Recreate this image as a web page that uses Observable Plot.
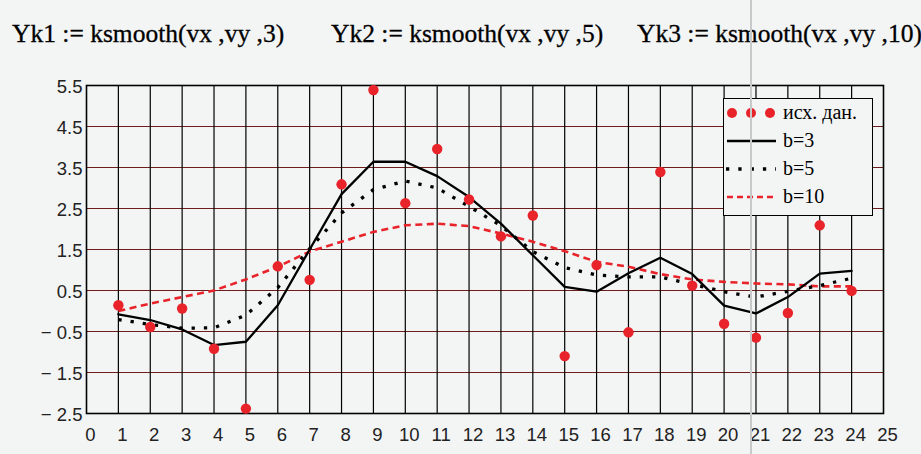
<!DOCTYPE html>
<html>
<head>
<meta charset="utf-8">
<script src="https://cdn.jsdelivr.net/npm/d3@7"></script>
<script src="https://cdn.jsdelivr.net/npm/@observablehq/plot@0.6"></script>
<style>
  html, body { margin: 0; padding: 0; background: #f3f4f4; }
  #page { position: relative; width: 921px; height: 454px; overflow: hidden; background: #f3f4f4; }
  #title { position: relative; height: 60px; font-family: "Liberation Serif", serif; font-size: 25.5px; color: #000; -webkit-text-stroke: 0.3px #000; }
  #title span { position: absolute; top: 19px; white-space: pre; }
  #legend { position: absolute; left: 723px; top: 98px; width: 148px; height: 116px; border: 1px solid #000;
            background: #f3f4f4; font-family: "Liberation Serif", serif; font-size: 20px; color: #000; }
  #legend .row { position: absolute; left: 0; height: 28px; width: 148px; }
  #legend .row svg { position: absolute; left: 0; top: 0; }
  #legend .row span { position: absolute; left: 59px; top: 1px; white-space: pre; }
  #cursor { position: absolute; left: 750px; top: 0; width: 1.5px; height: 454px; background: #c6c8ca; }
</style>
</head>
<body>
<div id="page">
  <div id="title"></div>
  <div id="chart"></div>
  <div id="legend"></div>
  <div id="cursor"></div>
</div>
<script>
// ---- data ----
const titles = ["Yk1 := ksmooth(vx ,vy ,3)", "Yk2 := ksmooth(vx ,vy ,5)", "Yk3 := ksmooth(vx ,vy ,10)"];
const legendLabels = ["исх. дан.", "b=3", "b=5", "b=10"];
const vx = [1, 2, 3, 4, 5, 6, 7, 8, 9, 10, 11, 12, 13, 14, 15, 16, 17, 18, 19, 20, 21, 22, 23, 24];
const vy = [0.14, -0.39, 0.06, -0.92, -2.38, 1.09, 0.76, 3.09, 5.39, 2.63, 3.95, 2.72,
            1.82, 2.33, -1.10, 1.12, -0.52, 3.39, 0.62, -0.31, -0.65, -0.05, 2.09, 0.49];
const yk1 = [-0.08, -0.22, -0.45, -0.83, -0.75, 0.14, 1.50, 2.85, 3.64, 3.64, 3.29, 2.78,
             2.13, 1.36, 0.59, 0.47, 0.92, 1.30, 0.90, 0.13, -0.06, 0.34, 0.91, 0.98];
const yk2 = [-0.21, -0.33, -0.42, -0.41, -0.10, 0.57, 1.52, 2.39, 2.96, 3.17, 3.00, 2.55,
             2.08, 1.45, 1.06, 0.88, 0.83, 0.83, 0.65, 0.47, 0.34, 0.48, 0.62, 0.80];
const yk3 = [0.00, 0.18, 0.34, 0.50, 0.77, 1.08, 1.45, 1.69, 1.93, 2.09, 2.13, 2.07,
             1.89, 1.69, 1.46, 1.20, 1.08, 0.90, 0.77, 0.71, 0.67, 0.65, 0.60, 0.60];
const xTicks = [0, 1, 2, 3, 4, 5, 6, 7, 8, 9, 10, 11, 12, 13, 14, 15, 16, 17, 18, 19, 20, 21, 22, 23, 24, 25];
const yTicks = [-2.5, -1.5, -0.5, 0.5, 1.5, 2.5, 3.5, 4.5, 5.5];
const xGrid = [1, 2, 3, 4, 5, 6, 7, 8, 9, 10, 11, 12, 13, 14, 15, 16, 17, 18, 19, 20, 21, 22, 23, 24];
const yGrid = [-1.5, -0.5, 0.5, 1.5, 2.5, 3.5, 4.5];
const titleX = [12, 331, 637];

// ---- styles ----
const RED = "#e8232a";
const GRID_H = "#6e1c1c";

// ---- title ----
const tdiv = document.getElementById("title");
titles.forEach((t, i) => {
  const s = document.createElement("span");
  s.textContent = t;
  s.style.left = titleX[i] + "px";
  tdiv.appendChild(s);
});

const pts = vx.map((x, i) => ({x, y: vy[i]}));
const l1 = vx.map((x, i) => ({x, y: yk1[i]}));
const l2 = vx.map((x, i) => ({x, y: yk2[i]}));
const l3 = vx.map((x, i) => ({x, y: yk3[i]}));

const fmtY = d => d < 0 ? "\u2212 " + Math.abs(d).toFixed(1) : d.toFixed(1);

const chart = Plot.plot({
  width: 921,
  height: 394,
  marginLeft: 86,
  marginRight: 38,
  marginTop: 25,
  marginBottom: 41,
  x: {domain: [0, 25]},
  y: {domain: [-2.5, 5.5]},
  style: {background: "transparent", fontFamily: "Liberation Sans, Arial, sans-serif", fontSize: "18.5px", color: "#222"},
  marks: [
    Plot.ruleY(yGrid, {stroke: GRID_H, strokeWidth: 1.2}),
    Plot.ruleX(xGrid, {stroke: "#000", strokeWidth: 1.2}),
    Plot.frame({stroke: "#000", strokeWidth: 1.6}),
    Plot.line(l3, {x: "x", y: "y", stroke: RED, strokeWidth: 2.6, strokeDasharray: "7,4.5", strokeLinecap: "butt"}),
    Plot.line(l2, {x: "x", y: "y", stroke: "#000", strokeWidth: 3.3, strokeDasharray: "3.3,9", strokeLinecap: "butt"}),
    Plot.line(l1, {x: "x", y: "y", stroke: "#000", strokeWidth: 2.3}),
    Plot.dot(pts, {x: "x", y: "y", r: 5.2, fill: RED, stroke: "none"}),
    Plot.axisX({ticks: xTicks, tickSize: 0, tickPadding: 14, dx: 4, label: null, tickFormat: d => String(d), fill: "#222"}),
    Plot.axisY({ticks: yTicks, tickSize: 0, tickPadding: 4, dy: 2, label: null, tickFormat: fmtY, fill: "#222"})
  ]
});
document.getElementById("chart").appendChild(chart);

// ---- legend ----
const leg = document.getElementById("legend");
const rowTops = [1, 29, 57, 85];
const swatches = [
  `<svg width="56" height="28"><circle cx="8" cy="13" r="5" fill="${RED}"/><circle cx="27" cy="13" r="5" fill="${RED}"/><circle cx="46" cy="13" r="5" fill="${RED}"/></svg>`,
  `<svg width="56" height="28"><line x1="3" y1="13" x2="52" y2="13" stroke="#000" stroke-width="2.3"/></svg>`,
  `<svg width="56" height="28"><line x1="2" y1="13" x2="52" y2="13" stroke="#000" stroke-width="3.3" stroke-dasharray="3.3,9"/></svg>`,
  `<svg width="56" height="28"><line x1="3" y1="13" x2="52" y2="13" stroke="${RED}" stroke-width="2.4" stroke-dasharray="6,4"/></svg>`
];
legendLabels.forEach((lab, i) => {
  const r = document.createElement("div");
  r.className = "row";
  r.style.top = rowTops[i] + "px";
  r.innerHTML = swatches[i] + "<span></span>";
  r.querySelector("span").textContent = lab;
  leg.appendChild(r);
});
</script>
</body>
</html>
